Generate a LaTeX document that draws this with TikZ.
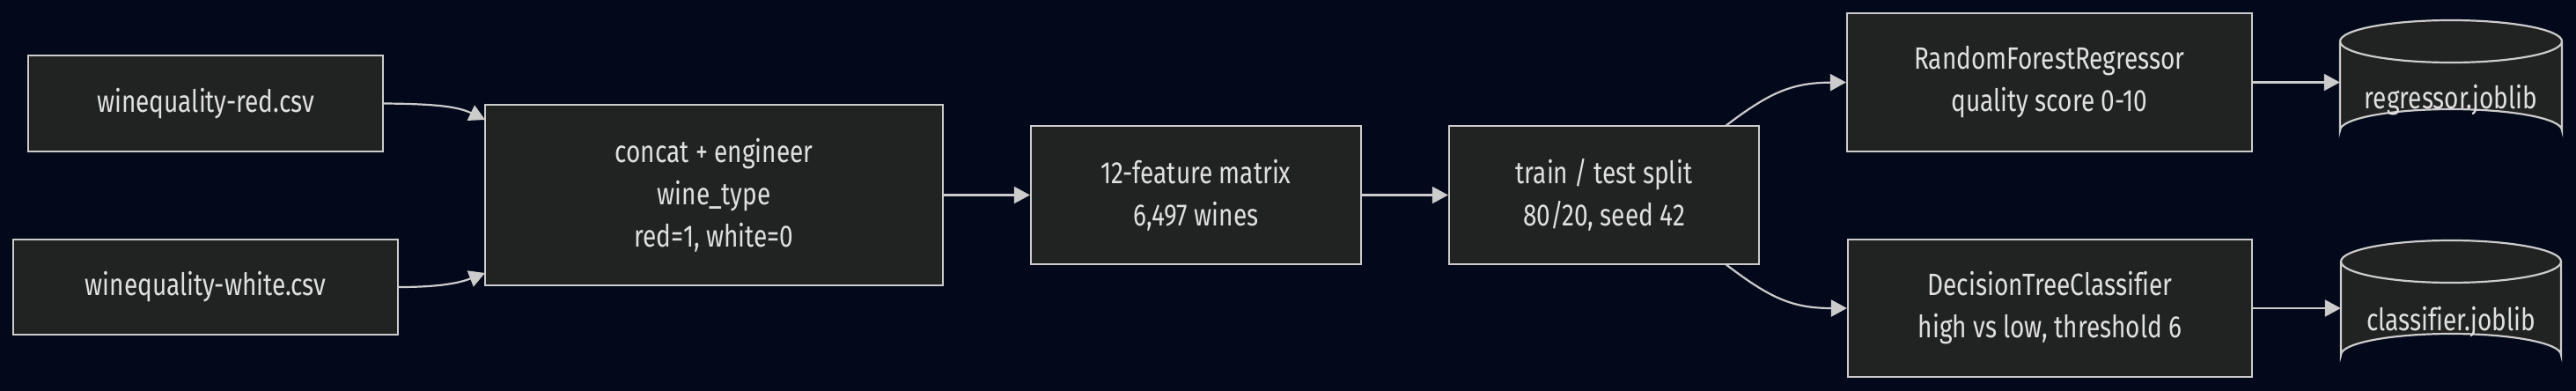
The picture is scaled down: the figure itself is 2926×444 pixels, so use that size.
\documentclass[tikz,border=0pt]{standalone}
\usepackage{fontspec}
\setmainfont{Fira Sans}[FakeStretch=0.8,Ligatures=NoCommon]
\usetikzlibrary{arrows.meta,calc}
\definecolor{bg}{RGB}{2,9,26}
\definecolor{boxfill}{RGB}{33,35,34}
\definecolor{edge}{RGB}{204,204,204}
\definecolor{txt}{RGB}{224,224,224}
\begin{document}
\begin{tikzpicture}[x=1pt,y=-1pt,
  box/.style={draw=edge,fill=boxfill,line width=2.2pt,text=txt,align=center,inner sep=0pt,
    font=\fontsize{35}{48}\selectfont},
  lbl/.style={text=txt,align=center,inner sep=0pt,font=\fontsize{35}{48}\selectfont},
  conn/.style={draw=edge,line width=2.2pt,-{Triangle[length=18pt,width=19pt]}}]
\fill[bg] (0,0) rectangle (2926,444);
\useasboundingbox (0,0) rectangle (2926,444);
\newcommand{\bx}[6]{\node[box,minimum width=#4-#2,minimum height=#5-#3] (#1) at ({(#2+#4)/2},{(#3+#5)/2}) {#6};}
\bx{red}{32}{63}{435}{172}{winequality-red.csv}
\bx{white}{15}{272}{452}{380}{winequality-white.csv}
\bx{concat}{551}{119}{1071}{324}{concat + engineer\\wine\_type\\red=1, white=0}
\bx{feat}{1171}{143}{1546}{300}{12-feature matrix\\6,497 wines}
\bx{split}{1646}{143}{1998}{300}{train / test split\\80/20, seed 42}
\bx{rf}{2098}{15}{2558}{172}{RandomForestRegressor\\quality score 0-10}
\bx{dt}{2099}{272}{2558}{428}{DecisionTreeClassifier\\high vs low, threshold 6}
% cylinders
\newcommand{\cyl}[6]{%
 \filldraw[draw=edge,fill=boxfill,line width=2.2pt]
   (#2,#3+24) arc[start angle=180,end angle=360,x radius={(#4-#2)/2},y radius=24]
   -- (#4,#5-24) arc[start angle=0,end angle=-180,x radius={(#4-#2)/2},y radius=24] -- cycle;
 \draw[edge,line width=2.2pt] (#2,#3+24) arc[start angle=180,end angle=0,x radius={(#4-#2)/2},y radius=24];
 \node[lbl,minimum width=#4-#2,minimum height=#5-#3-48] (#1) at ({(#2+#4)/2},{(#3+#5)/2+16}) {#6};}
\cyl{reg}{2658}{23}{2910}{172}{regressor.joblib}
\cyl{cls}{2659}{273}{2909}{427}{classifier.joblib}
\coordinate (c1) at (551,136);
\coordinate (c2) at (551,310);
\coordinate (s1) at (1960,143);
\coordinate (s2) at (1960,300);
\draw[conn] (red.east) .. controls (495,118) and (520,121) .. (c1);
\draw[conn] (white.east) .. controls (505,326) and (525,320) .. (c2);
\draw[conn] (concat.east) -- (feat.west);
\draw[conn] (feat.east) -- (split.west);
\draw[conn] (s1) .. controls (2010,105) and (2035,94) .. (rf.west);
\draw[conn] (s2) .. controls (2010,338) and (2035,350) .. (dt.west);
\draw[conn] (rf.east) -- (reg.west |- rf.east);
\draw[conn] (dt.east) -- (cls.west |- dt.east);
\end{tikzpicture}
\end{document}
